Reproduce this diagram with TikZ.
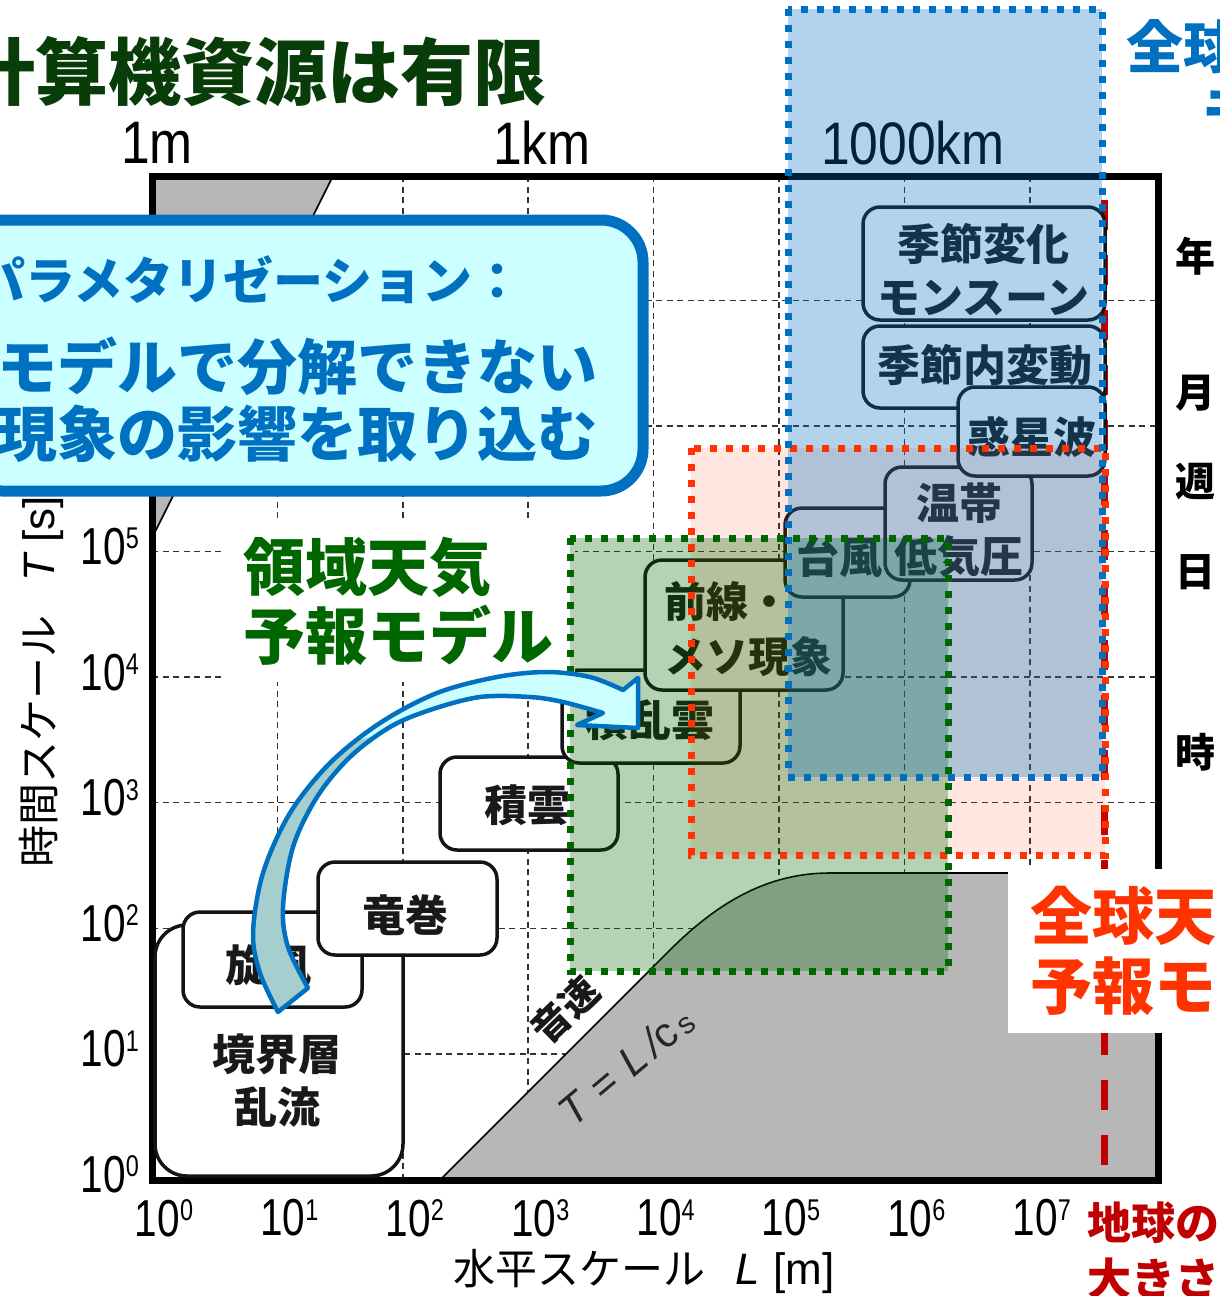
\documentclass[tikz,border=0pt]{standalone}
\usepackage{fontspec}
\usepackage{graphicx}
\newfontfamily\jp{Noto Sans CJK JP}
\newfontfamily\nar{Liberation Sans}[FakeStretch=0.78]
\newfontfamily\narb{Liberation Sans}[FakeStretch=0.86]
\newfontfamily\lib{Liberation Sans}
\newcommand\fsz[1]{\fontsize{#1}{#1}\selectfont}
\newcommand\tenp[1]{10\raisebox{0.3em}{\fsz{30}#1}}
\definecolor{bl}{RGB}{0,112,192}
\definecolor{rd}{RGB}{255,51,0}
\definecolor{gr}{RGB}{0,102,0}
\definecolor{dgr}{RGB}{8,60,8}
\definecolor{drd}{RGB}{192,0,0}
\definecolor{gry}{RGB}{183,183,183}
\definecolor{cy}{RGB}{204,255,255}
\definecolor{tl}{RGB}{166,206,206}
\newcommand\myarrowpath{plot[smooth, tension=0.55] coordinates {(278,1012) (260,973) (253,933) (263,873) (290,813) (330,763) (380,723) (437,693) (497,677) (547,672) (590,677) (623,690)} -- (638,678) -- (638,728) -- (577,725) -- (603,713) -- plot[smooth, tension=0.55] coordinates {(603,713) (563,702) (530,697) (480,697) (430,710) (390,727) (350,757) (317,797) (293,847) (283,907) (288,947) (308,988)} -- cycle}
\begin{document}
\begin{tikzpicture}[x=1pt,y=-1pt,
  gridl/.style={draw=black!80, line width=1.5pt, dash pattern=on 6pt off 4.5pt},
  thinl/.style={draw=black, line width=1.6pt},
  pbox/.style={draw=black!92, line width=3.5pt, fill=white, rounded corners=17pt, inner sep=0pt},
  plab/.style={font={\jp\bfseries\fontsize{43}{53}\selectfont}, text=black!90, align=center, inner sep=0pt},
  tick/.style={font={\nar\fsz{52}}, inner sep=0pt},
  tlab/.style={font={\jp\bfseries\fsz{40}}, inner sep=0pt},
  regionb/.style={line width=7pt, dash pattern=on 7pt off 9pt},
  bigtxt/.style={inner sep=0pt, anchor=west, align=left}]
\useasboundingbox (0,0) rectangle (1220,1296);
\clip (0,0) rectangle (1220,1296);
\fill[white] (0,0) rectangle (1220,1296);

% grid
\foreach \i in {1,...,7} \draw[gridl] ({152+125.4*\i},176) -- ({152+125.4*\i},1180);
\foreach \j in {1,...,7} \draw[gridl] (152,{1179.5-125.6*\j}) -- (1158,{1179.5-125.6*\j});

% gray regions
\fill[gry] (152,176) -- (333,176) -- (152,538) -- cycle;
\draw[thinl] (333,176) -- (152,538);
\fill[gry] (440,1180) -- (670,950) .. controls (720,900) and (770,873) .. (830,873) -- (1158,873) -- (1158,1180) -- cycle;
\draw[thinl] (440,1180) -- (670,950) .. controls (720,900) and (770,873) .. (830,873) -- (1158,873);

% Earth size line
\draw[drd, line width=7pt, dash pattern=on 30pt off 25pt] (1104,1165) -- (1104,176);

% frame
\draw[line width=7pt] (152,176) rectangle (1158,1180);

% phenomena boxes
\node[pbox, rounded corners=32pt, minimum width=248pt, minimum height=251pt] (kyokai) at (279,1050.5) {};
\node[plab] (kyokaiT) at (277,1081) {境界層\\乱流};
\node[pbox, minimum width=179pt, minimum height=95pt] (senpu) at (272.5,959.5) {};
\node[plab] (senpuT) at (268,965) {旋風};
\node[pbox, minimum width=179pt, minimum height=93pt] (tatsu) at (407.5,908.5) {};
\node[plab] (tatsuT) at (405,915) {竜巻};
\node[pbox, minimum width=178pt, minimum height=93pt] (sekiun) at (529,803.5) {};
\node[plab] (sekiunT) at (527,805) {積雲};
\node[pbox, minimum width=178pt, minimum height=93pt] (sekiran) at (651,716.5) {};
\node[plab] (sekiranT) at (650,720) {積乱雲};
\node[pbox, minimum width=198pt, minimum height=130pt] (zensen) at (744,625) {};
\node[plab, align=left, anchor=west, font={\jp\bfseries\fontsize{42}{55}\selectfont}] (zensenT) at (664,629.5) {前線・\\メソ現象};
\node[pbox, minimum width=125pt, minimum height=89pt] (taifu) at (847.5,552.5) {};
\node[plab] (taifuT) at (839,557) {台風};
\node[pbox, minimum width=147pt, minimum height=113pt] (ontai) at (958.5,523.5) {};
\node[plab] (ontaiT) at (959,530.5) {温帯\\低気圧};
\node[pbox, minimum width=242pt, minimum height=82pt] (kinai) at (984,367) {};
\node[plab] (kinaiT) at (985,365) {季節内変動};
\node[pbox, minimum width=242pt, minimum height=113pt] (kisetsu) at (984,263.5) {};
\node[plab] (kisetsuT) at (983,269.5) {季節変化\\モンスーン};
\node[pbox, minimum width=147pt, minimum height=89pt] (waku) at (1031.5,431.5) {};
\node[plab] (wakuT) at (1032,437) {惑星波};

% scale labels on top
\node[inner sep=0pt, font={\narb\fsz{60}}] (m1) at (157,143) {1m};
\node[inner sep=0pt, font={\narb\fsz{60}}] (km1) at (542,143) {1km};
\node[inner sep=0pt, font={\narb\fsz{60}}] (km1000) at (913,143) {1000km};

% tick labels
\foreach \i in {0,...,7} \node[tick] (xt\i) at ({152+125.4*\i+12},1218) {\tenp{\i}};
\foreach \j in {0,...,5} \node[tick, anchor=east] (yt\j) at (139,{1179.5-125.6*\j-5}) {\tenp{\j}};

% axis titles
\node[inner sep=0pt, anchor=west] (xtitle) at (453,1271) {{\jp\fsz{42}水平スケール}\hspace{30pt}{\lib\fsz{44}\itshape L}\hspace{14pt}{\lib\fsz{44}[m]}};
\node[inner sep=0pt, anchor=west, rotate=90] (ytitle) at (41,868) {{\jp\fsz{42}時間スケール}\hspace{34pt}{\lib\fsz{44}\itshape T}\hspace{12pt}{\lib\fsz{44}[s]}};

% right time labels
\node[tlab] (nen) at (1195,256) {年};
\node[tlab] (tsuki) at (1195,393) {月};
\node[tlab] (shu) at (1195,482) {週};
\node[tlab] (hi) at (1195,572) {日};
\node[tlab] (ji) at (1195,752) {時};

% sound speed labels
\node[inner sep=0pt, rotate=44, font={\jp\bfseries\fsz{38}}, text=black!90] (onsoku) at (565,1010) {音速};
\node[inner sep=0pt, rotate=40, font={\lib\fsz{42}}, text=black!85] (tlcs) at (626,1066) {\itshape T\,\,=\,\,L\,/\upshape c\raisebox{-0.05em}{\fsz{30}\,s}};

% regional model label (white backing over the grid)
\node[fill=white, inner xsep=22pt, inner ysep=16pt, align=left, text=gr, font={\jp\bfseries\fontsize{62}{69}\selectfont}] (regional) at (398,601.5) {領域天気\\予報モデル};

% model regions: fills
\fill[rd, fill opacity=0.12] (691,448) rectangle (1105,855);
\fill[gr, fill opacity=0.29] (570,538) rectangle (948,971);
\fill[bl, fill opacity=0.3] (788,9) rectangle (1102,777);
% borders
\draw[regionb, rd] (691,448) rectangle (1105,855);
\draw[regionb, gr] (570,538) rectangle (948,971);
\draw[regionb, bl] (788,9) rectangle (1102,777);

% global model label
\node[fill=white, inner xsep=22pt, inner ysep=17pt, anchor=west, align=left, text=rd, font={\jp\bfseries\fontsize{62}{70}\selectfont}] (global) at (1008,951) {全球天\\予報モ};

% curved arrow
\fill[cy] \myarrowpath;
\begin{scope}
\clip (150,1100) -- (150,762) -- (335,748) -- (448,712) -- (448,1100) -- cycle;
\fill[tl] \myarrowpath;
\end{scope}
\draw[bl, line width=4.5pt, line join=round] \myarrowpath;

% callout
\node[draw=bl, fill=cy, line width=11pt, rounded corners=42pt, minimum width=683pt, minimum height=271pt, inner sep=0pt] (callout) at (301.5,355.5) {};
\node[bigtxt, text=bl, font={\jp\bfseries\fsz{50}}] (cl1) at (-25,280) {パラメタリゼーション：};
\node[bigtxt, text=bl, font={\jp\bfseries\fsz{60}}] (cl2) at (-3,366) {モデルで分解できない};
\node[bigtxt, text=bl, font={\jp\bfseries\fsz{60}}] (cl3) at (-3,434) {現象の影響を取り込む};

% title and outer labels
\node[bigtxt, text=dgr, font={\jp\bfseries\fsz{73}}] (title) at (-38,72) {計算機資源は有限};
\node[bigtxt, text=bl, font={\jp\bfseries\fsz{57}}] (gcm1) at (1126,47) {全球};
\node[bigtxt, text=bl, font={\jp\bfseries\fsz{57}}] (gcm2) at (1201,113) {モ};
\node[bigtxt, text=drd, font={\jp\bfseries\fontsize{44}{56}\selectfont}] (earth) at (1087,1251) {地球の\\大きさ};
\end{tikzpicture}
\end{document}
